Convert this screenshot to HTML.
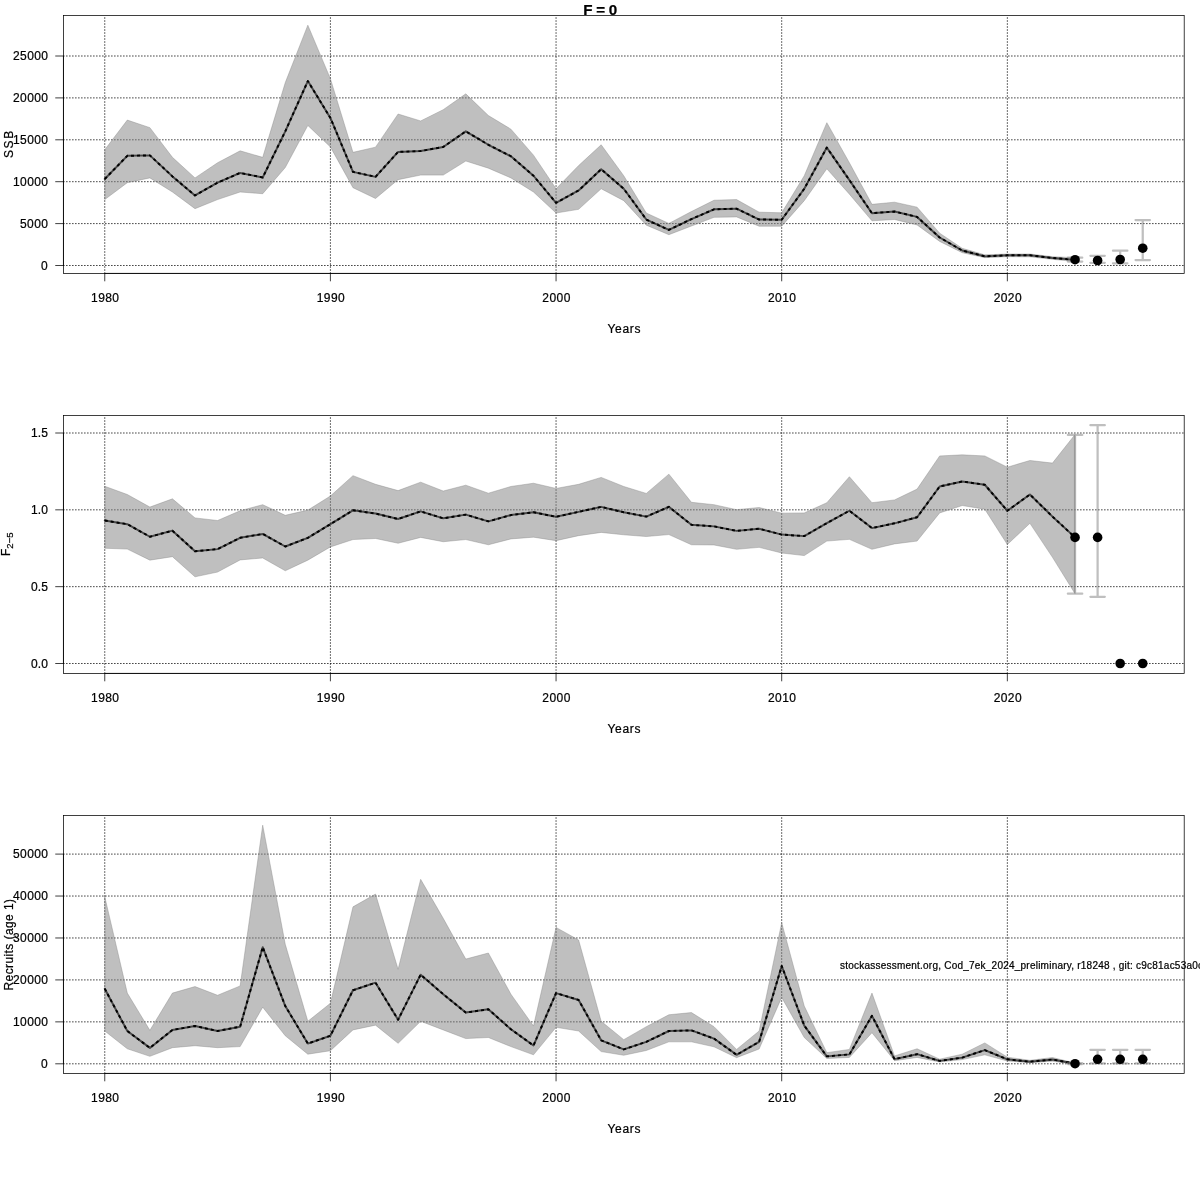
<!DOCTYPE html>
<html lang="en"><head><meta charset="utf-8"><title>F = 0</title>
<style>html,body{margin:0;padding:0;background:#fff}svg{display:block}text{font-family:'Liberation Sans', Arial, Helvetica, sans-serif;fill:#000;stroke:#000;stroke-width:0.22px}</style></head><body>
<svg width="1200" height="1200" viewBox="0 0 1200 1200">
<rect x="0" y="0" width="1200" height="1200" fill="#ffffff"/>
<line x1="55.25" y1="265.5" x2="63.45" y2="265.5" stroke="#000" stroke-width="0.75"/>
<text x="41" y="269.7" font-size="12" textLength="7" lengthAdjust="spacing">0</text>
<line x1="55.25" y1="223.6" x2="63.45" y2="223.6" stroke="#000" stroke-width="0.75"/>
<text x="20" y="227.8" font-size="12" textLength="28" lengthAdjust="spacing">5000</text>
<line x1="55.25" y1="181.7" x2="63.45" y2="181.7" stroke="#000" stroke-width="0.75"/>
<text x="13" y="185.9" font-size="12" textLength="35" lengthAdjust="spacing">10000</text>
<line x1="55.25" y1="139.8" x2="63.45" y2="139.8" stroke="#000" stroke-width="0.75"/>
<text x="13" y="144" font-size="12" textLength="35" lengthAdjust="spacing">15000</text>
<line x1="55.25" y1="97.9" x2="63.45" y2="97.9" stroke="#000" stroke-width="0.75"/>
<text x="13" y="102.1" font-size="12" textLength="35" lengthAdjust="spacing">20000</text>
<line x1="55.25" y1="56" x2="63.45" y2="56" stroke="#000" stroke-width="0.75"/>
<text x="13" y="60.2" font-size="12" textLength="35" lengthAdjust="spacing">25000</text>
<line x1="104.75" y1="273.4" x2="104.75" y2="281.3" stroke="#000" stroke-width="0.75"/>
<text x="91.05" y="301.9" font-size="12" textLength="28" lengthAdjust="spacing">1980</text>
<line x1="330.4" y1="273.4" x2="330.4" y2="281.3" stroke="#000" stroke-width="0.75"/>
<text x="316.7" y="301.9" font-size="12" textLength="28" lengthAdjust="spacing">1990</text>
<line x1="556.05" y1="273.4" x2="556.05" y2="281.3" stroke="#000" stroke-width="0.75"/>
<text x="542.35" y="301.9" font-size="12" textLength="28" lengthAdjust="spacing">2000</text>
<line x1="781.7" y1="273.4" x2="781.7" y2="281.3" stroke="#000" stroke-width="0.75"/>
<text x="768" y="301.9" font-size="12" textLength="28" lengthAdjust="spacing">2010</text>
<line x1="1007.35" y1="273.4" x2="1007.35" y2="281.3" stroke="#000" stroke-width="0.75"/>
<text x="993.65" y="301.9" font-size="12" textLength="28" lengthAdjust="spacing">2020</text>
<text x="607.43" y="332.6" font-size="12" textLength="33" lengthAdjust="spacing">Years</text>
<text transform="translate(12.8 158.1) rotate(-90)" font-size="12" textLength="27.4" lengthAdjust="spacing">SSB</text>
<line x1="104.75" y1="273.4" x2="1007.35" y2="273.4" stroke="#000" stroke-width="0.75"/>
<line x1="63.45" y1="265.5" x2="63.45" y2="56" stroke="#000" stroke-width="0.75"/>
<rect x="63.45" y="15.5" width="1120.75" height="257.9" fill="none" stroke="#000" stroke-width="0.75"/>
<line x1="104.75" y1="273.4" x2="104.75" y2="15.5" stroke="#000" stroke-width="0.75" stroke-dasharray="0.75 2.25" stroke-linecap="round"/>
<line x1="330.4" y1="273.4" x2="330.4" y2="15.5" stroke="#000" stroke-width="0.75" stroke-dasharray="0.75 2.25" stroke-linecap="round"/>
<line x1="556.05" y1="273.4" x2="556.05" y2="15.5" stroke="#000" stroke-width="0.75" stroke-dasharray="0.75 2.25" stroke-linecap="round"/>
<line x1="781.7" y1="273.4" x2="781.7" y2="15.5" stroke="#000" stroke-width="0.75" stroke-dasharray="0.75 2.25" stroke-linecap="round"/>
<line x1="1007.35" y1="273.4" x2="1007.35" y2="15.5" stroke="#000" stroke-width="0.75" stroke-dasharray="0.75 2.25" stroke-linecap="round"/>
<line x1="63.45" y1="265.5" x2="1184.2" y2="265.5" stroke="#000" stroke-width="0.75" stroke-dasharray="0.75 2.25" stroke-linecap="round"/>
<line x1="63.45" y1="223.6" x2="1184.2" y2="223.6" stroke="#000" stroke-width="0.75" stroke-dasharray="0.75 2.25" stroke-linecap="round"/>
<line x1="63.45" y1="181.7" x2="1184.2" y2="181.7" stroke="#000" stroke-width="0.75" stroke-dasharray="0.75 2.25" stroke-linecap="round"/>
<line x1="63.45" y1="139.8" x2="1184.2" y2="139.8" stroke="#000" stroke-width="0.75" stroke-dasharray="0.75 2.25" stroke-linecap="round"/>
<line x1="63.45" y1="97.9" x2="1184.2" y2="97.9" stroke="#000" stroke-width="0.75" stroke-dasharray="0.75 2.25" stroke-linecap="round"/>
<line x1="63.45" y1="56" x2="1184.2" y2="56" stroke="#000" stroke-width="0.75" stroke-dasharray="0.75 2.25" stroke-linecap="round"/>
<polygon points="104.75,149.75 127.31,120.07 149.88,127.65 172.44,157.33 195.01,177.92 217.57,162.75 240.14,150.83 262.71,157.33 285.27,82.58 307.84,25.17 330.4,78.68 352.97,152.35 375.53,147.15 398.1,114 420.66,120.93 443.23,109.67 465.79,93.85 488.36,115.52 510.92,129.17 533.49,155.17 556.05,188.75 578.62,165.57 601.18,144.77 623.75,175.75 646.31,213.02 668.88,223.42 691.44,211.5 714,200.23 736.57,199.58 759.13,212.15 781.7,212.8 804.26,175.75 826.83,122.67 849.4,162.75 871.96,204.35 894.53,202.18 917.09,207.17 939.66,233.17 962.22,248.33 984.79,254.83 1007.35,254 1029.91,254 1052.48,256.67 1075.05,257.67 1075.05,261.5 1052.48,259.33 1029.91,256.83 1007.35,256.67 984.79,257.65 962.22,252.67 939.66,241.4 917.09,224.93 894.53,219.52 871.96,220.82 849.4,194.17 826.83,168.82 804.26,200.67 781.7,226.23 759.13,226.23 736.57,216.92 714,217.35 691.44,226.02 668.88,234.68 646.31,225.15 623.75,200.67 601.18,188.75 578.62,209.33 556.05,213.02 533.49,192 510.92,177.92 488.36,168.17 465.79,161.02 443.23,175.1 420.66,175.1 398.1,179.65 375.53,198.5 352.97,187.67 330.4,146.93 307.84,125.48 285.27,167.52 262.71,193.73 240.14,192 217.57,199.58 195.01,208.68 172.44,192 149.88,177.92 127.31,182.68 104.75,199.58" fill="rgba(128,128,128,0.5)" stroke="rgba(128,128,128,0.5)" stroke-width="0.75" stroke-linejoin="round"/>
<polyline points="104.75,179 127.31,155.82 149.88,155.38 172.44,176.4 195.01,195.47 217.57,182.68 240.14,172.93 262.71,177.48 285.27,131.33 307.84,81.07 330.4,117.9 352.97,171.85 375.53,176.83 398.1,151.92 420.66,151.05 443.23,146.93 465.79,131.33 488.36,144.77 510.92,156.25 533.49,175.75 556.05,202.83 578.62,190.48 601.18,169.25 623.75,188.75 646.31,219.52 668.88,229.92 691.44,219.08 714,209.33 736.57,208.68 759.13,219.52 781.7,219.73 804.26,188.75 826.83,147.58 849.4,180.08 871.96,213.23 894.53,211.5 917.09,216.92 939.66,237.5 962.22,250.5 984.79,256.35 1007.35,255.33 1029.91,255.33 1052.48,258 1075.05,259.67" fill="none" stroke="#000" stroke-opacity="0.62" stroke-width="1.95" stroke-linejoin="round" stroke-linecap="round"/>
<polyline points="104.75,179 127.31,155.82 149.88,155.38 172.44,176.4 195.01,195.47 217.57,182.68 240.14,172.93 262.71,177.48 285.27,131.33 307.84,81.07 330.4,117.9 352.97,171.85 375.53,176.83 398.1,151.92 420.66,151.05 443.23,146.93 465.79,131.33 488.36,144.77 510.92,156.25 533.49,175.75 556.05,202.83 578.62,190.48 601.18,169.25 623.75,188.75 646.31,219.52 668.88,229.92 691.44,219.08 714,209.33 736.57,208.68 759.13,219.52 781.7,219.73 804.26,188.75 826.83,147.58 849.4,180.08 871.96,213.23 894.53,211.5 917.09,216.92 939.66,237.5 962.22,250.5 984.79,256.35 1007.35,255.33 1029.91,255.33 1052.48,258 1075.05,259.67" fill="none" stroke="#000" stroke-width="1.95" stroke-dasharray="3 3" stroke-linejoin="round" stroke-linecap="butt"/>
<path d="M1075.05 257.7V261.5M1067.85 257.7H1082.25M1067.85 261.5H1082.25" fill="none" stroke="rgba(128,128,128,0.5)" stroke-width="2.25" stroke-linecap="round"/>
<path d="M1097.61 255.8V262.8M1090.41 255.8H1104.81M1090.41 262.8H1104.81" fill="none" stroke="rgba(128,128,128,0.5)" stroke-width="2.25" stroke-linecap="round"/>
<path d="M1120.18 250.7V263.3M1112.98 250.7H1127.38M1112.98 263.3H1127.38" fill="none" stroke="rgba(128,128,128,0.5)" stroke-width="2.25" stroke-linecap="round"/>
<path d="M1142.74 220V260M1135.54 220H1149.94M1135.54 260H1149.94" fill="none" stroke="rgba(128,128,128,0.5)" stroke-width="2.25" stroke-linecap="round"/>
<circle cx="1075.05" cy="259.7" r="4.8" fill="#000"/>
<circle cx="1097.61" cy="260.5" r="4.8" fill="#000"/>
<circle cx="1120.18" cy="259.5" r="4.8" fill="#000"/>
<circle cx="1142.74" cy="248.2" r="4.8" fill="#000"/>
<line x1="55.25" y1="663.5" x2="63.45" y2="663.5" stroke="#000" stroke-width="0.75"/>
<text x="31" y="667.7" font-size="12" textLength="17" lengthAdjust="spacing">0.0</text>
<line x1="55.25" y1="586.67" x2="63.45" y2="586.67" stroke="#000" stroke-width="0.75"/>
<text x="31" y="590.87" font-size="12" textLength="17" lengthAdjust="spacing">0.5</text>
<line x1="55.25" y1="509.84" x2="63.45" y2="509.84" stroke="#000" stroke-width="0.75"/>
<text x="31" y="514.04" font-size="12" textLength="17" lengthAdjust="spacing">1.0</text>
<line x1="55.25" y1="433.01" x2="63.45" y2="433.01" stroke="#000" stroke-width="0.75"/>
<text x="31" y="437.21" font-size="12" textLength="17" lengthAdjust="spacing">1.5</text>
<line x1="104.75" y1="673.4" x2="104.75" y2="681.3" stroke="#000" stroke-width="0.75"/>
<text x="91.05" y="701.9" font-size="12" textLength="28" lengthAdjust="spacing">1980</text>
<line x1="330.4" y1="673.4" x2="330.4" y2="681.3" stroke="#000" stroke-width="0.75"/>
<text x="316.7" y="701.9" font-size="12" textLength="28" lengthAdjust="spacing">1990</text>
<line x1="556.05" y1="673.4" x2="556.05" y2="681.3" stroke="#000" stroke-width="0.75"/>
<text x="542.35" y="701.9" font-size="12" textLength="28" lengthAdjust="spacing">2000</text>
<line x1="781.7" y1="673.4" x2="781.7" y2="681.3" stroke="#000" stroke-width="0.75"/>
<text x="768" y="701.9" font-size="12" textLength="28" lengthAdjust="spacing">2010</text>
<line x1="1007.35" y1="673.4" x2="1007.35" y2="681.3" stroke="#000" stroke-width="0.75"/>
<text x="993.65" y="701.9" font-size="12" textLength="28" lengthAdjust="spacing">2020</text>
<text x="607.43" y="732.6" font-size="12" textLength="33" lengthAdjust="spacing">Years</text>
<text transform="translate(9.5 556) rotate(-90)" font-size="12" text-anchor="start">F<tspan font-size="9.6" dy="3.2">2−5</tspan></text>
<line x1="104.75" y1="673.4" x2="1007.35" y2="673.4" stroke="#000" stroke-width="0.75"/>
<line x1="63.45" y1="663.5" x2="63.45" y2="433.01" stroke="#000" stroke-width="0.75"/>
<rect x="63.45" y="415.5" width="1120.75" height="257.9" fill="none" stroke="#000" stroke-width="0.75"/>
<line x1="104.75" y1="673.4" x2="104.75" y2="415.5" stroke="#000" stroke-width="0.75" stroke-dasharray="0.75 2.25" stroke-linecap="round"/>
<line x1="330.4" y1="673.4" x2="330.4" y2="415.5" stroke="#000" stroke-width="0.75" stroke-dasharray="0.75 2.25" stroke-linecap="round"/>
<line x1="556.05" y1="673.4" x2="556.05" y2="415.5" stroke="#000" stroke-width="0.75" stroke-dasharray="0.75 2.25" stroke-linecap="round"/>
<line x1="781.7" y1="673.4" x2="781.7" y2="415.5" stroke="#000" stroke-width="0.75" stroke-dasharray="0.75 2.25" stroke-linecap="round"/>
<line x1="1007.35" y1="673.4" x2="1007.35" y2="415.5" stroke="#000" stroke-width="0.75" stroke-dasharray="0.75 2.25" stroke-linecap="round"/>
<line x1="63.45" y1="663.5" x2="1184.2" y2="663.5" stroke="#000" stroke-width="0.75" stroke-dasharray="0.75 2.25" stroke-linecap="round"/>
<line x1="63.45" y1="586.67" x2="1184.2" y2="586.67" stroke="#000" stroke-width="0.75" stroke-dasharray="0.75 2.25" stroke-linecap="round"/>
<line x1="63.45" y1="509.84" x2="1184.2" y2="509.84" stroke="#000" stroke-width="0.75" stroke-dasharray="0.75 2.25" stroke-linecap="round"/>
<line x1="63.45" y1="433.01" x2="1184.2" y2="433.01" stroke="#000" stroke-width="0.75" stroke-dasharray="0.75 2.25" stroke-linecap="round"/>
<polygon points="104.75,486.27 127.31,494.5 149.88,507.07 172.44,498.83 195.01,517.9 217.57,520.5 240.14,510.75 262.71,504.68 285.27,515.3 307.84,510.1 330.4,496.02 352.97,475.65 375.53,484.32 398.1,490.6 420.66,482.15 443.23,491.03 465.79,485.18 488.36,493.2 510.92,486.48 533.49,483.23 556.05,488.43 578.62,484.32 601.18,477.38 623.75,486.48 646.31,493.42 668.88,474.13 691.44,502.3 714,504.68 736.57,509.67 759.13,507.5 781.7,513.13 804.26,512.92 826.83,502.73 849.4,476.73 871.96,502.73 894.53,499.92 917.09,489.08 939.66,455.93 962.22,454.85 984.79,455.93 1007.35,467.2 1029.91,460.48 1052.48,463.08 1075.05,434.48 1075.05,593.73 1052.48,557.33 1029.91,523.32 1007.35,544.55 984.79,509.23 962.22,505.55 939.66,512.92 917.09,541.08 894.53,543.9 871.96,549.32 849.4,539.35 826.83,541.08 804.26,555.6 781.7,553 759.13,547.37 736.57,549.32 714,544.98 691.44,544.77 668.88,534.58 646.31,536.53 623.75,534.8 601.18,532.42 578.62,535.67 556.05,540.65 533.49,537.18 510.92,538.92 488.36,544.77 465.79,539.57 443.23,541.73 420.66,537.4 398.1,543.25 375.53,538.48 352.97,539.57 330.4,546.93 307.84,560.15 285.27,570.77 262.71,557.98 240.14,559.93 217.57,572.07 195.01,576.83 172.44,556.68 149.88,560.15 127.31,549.1 104.75,548.23" fill="rgba(128,128,128,0.5)" stroke="rgba(128,128,128,0.5)" stroke-width="0.75" stroke-linejoin="round"/>
<polyline points="104.75,520.5 127.31,524.18 149.88,536.75 172.44,530.68 195.01,551.27 217.57,549.1 240.14,537.83 262.71,533.93 285.27,546.5 307.84,537.83 330.4,524.18 352.97,510.32 375.53,513.57 398.1,518.98 420.66,511.4 443.23,518.33 465.79,514.65 488.36,521.37 510.92,515.08 533.49,512.27 556.05,516.82 578.62,511.83 601.18,506.85 623.75,512.27 646.31,516.6 668.88,506.85 691.44,524.83 714,526.35 736.57,530.9 759.13,528.73 781.7,534.58 804.26,536.1 826.83,523.1 849.4,510.75 871.96,528.08 894.53,523.32 917.09,517.25 939.66,486.48 962.22,481.5 984.79,484.75 1007.35,510.75 1029.91,494.5 1052.48,516.6 1075.05,537.4" fill="none" stroke="#000" stroke-opacity="0.62" stroke-width="1.95" stroke-linejoin="round" stroke-linecap="round"/>
<polyline points="104.75,520.5 127.31,524.18 149.88,536.75 172.44,530.68 195.01,551.27 217.57,549.1 240.14,537.83 262.71,533.93 285.27,546.5 307.84,537.83 330.4,524.18 352.97,510.32 375.53,513.57 398.1,518.98 420.66,511.4 443.23,518.33 465.79,514.65 488.36,521.37 510.92,515.08 533.49,512.27 556.05,516.82 578.62,511.83 601.18,506.85 623.75,512.27 646.31,516.6 668.88,506.85 691.44,524.83 714,526.35 736.57,530.9 759.13,528.73 781.7,534.58 804.26,536.1 826.83,523.1 849.4,510.75 871.96,528.08 894.53,523.32 917.09,517.25 939.66,486.48 962.22,481.5 984.79,484.75 1007.35,510.75 1029.91,494.5 1052.48,516.6 1075.05,537.4" fill="none" stroke="#000" stroke-width="1.95" stroke-dasharray="3 3" stroke-linejoin="round" stroke-linecap="butt"/>
<path d="M1075.05 434.92V593.73M1067.85 434.92H1082.25M1067.85 593.73H1082.25" fill="none" stroke="rgba(128,128,128,0.5)" stroke-width="2.25" stroke-linecap="round"/>
<path d="M1097.61 425.17V596.77M1090.41 425.17H1104.81M1090.41 596.77H1104.81" fill="none" stroke="rgba(128,128,128,0.5)" stroke-width="2.25" stroke-linecap="round"/>
<circle cx="1075.05" cy="537.4" r="4.8" fill="#000"/>
<circle cx="1097.61" cy="537.4" r="4.8" fill="#000"/>
<circle cx="1120.18" cy="663.5" r="4.8" fill="#000"/>
<circle cx="1142.74" cy="663.5" r="4.8" fill="#000"/>
<line x1="55.25" y1="1063.8" x2="63.45" y2="1063.8" stroke="#000" stroke-width="0.75"/>
<text x="41" y="1068" font-size="12" textLength="7" lengthAdjust="spacing">0</text>
<line x1="55.25" y1="1021.86" x2="63.45" y2="1021.86" stroke="#000" stroke-width="0.75"/>
<text x="13" y="1026.06" font-size="12" textLength="35" lengthAdjust="spacing">10000</text>
<line x1="55.25" y1="979.92" x2="63.45" y2="979.92" stroke="#000" stroke-width="0.75"/>
<text x="13" y="984.12" font-size="12" textLength="35" lengthAdjust="spacing">20000</text>
<line x1="55.25" y1="937.98" x2="63.45" y2="937.98" stroke="#000" stroke-width="0.75"/>
<text x="13" y="942.18" font-size="12" textLength="35" lengthAdjust="spacing">30000</text>
<line x1="55.25" y1="896.04" x2="63.45" y2="896.04" stroke="#000" stroke-width="0.75"/>
<text x="13" y="900.24" font-size="12" textLength="35" lengthAdjust="spacing">40000</text>
<line x1="55.25" y1="854.1" x2="63.45" y2="854.1" stroke="#000" stroke-width="0.75"/>
<text x="13" y="858.3" font-size="12" textLength="35" lengthAdjust="spacing">50000</text>
<line x1="104.75" y1="1073.4" x2="104.75" y2="1081.3" stroke="#000" stroke-width="0.75"/>
<text x="91.05" y="1101.9" font-size="12" textLength="28" lengthAdjust="spacing">1980</text>
<line x1="330.4" y1="1073.4" x2="330.4" y2="1081.3" stroke="#000" stroke-width="0.75"/>
<text x="316.7" y="1101.9" font-size="12" textLength="28" lengthAdjust="spacing">1990</text>
<line x1="556.05" y1="1073.4" x2="556.05" y2="1081.3" stroke="#000" stroke-width="0.75"/>
<text x="542.35" y="1101.9" font-size="12" textLength="28" lengthAdjust="spacing">2000</text>
<line x1="781.7" y1="1073.4" x2="781.7" y2="1081.3" stroke="#000" stroke-width="0.75"/>
<text x="768" y="1101.9" font-size="12" textLength="28" lengthAdjust="spacing">2010</text>
<line x1="1007.35" y1="1073.4" x2="1007.35" y2="1081.3" stroke="#000" stroke-width="0.75"/>
<text x="993.65" y="1101.9" font-size="12" textLength="28" lengthAdjust="spacing">2020</text>
<text x="607.43" y="1132.6" font-size="12" textLength="33" lengthAdjust="spacing">Years</text>
<text transform="translate(12.8 990.5) rotate(-90)" font-size="12" textLength="91.5" lengthAdjust="spacing">Recruits (age 1)</text>
<line x1="104.75" y1="1073.4" x2="1007.35" y2="1073.4" stroke="#000" stroke-width="0.75"/>
<line x1="63.45" y1="1063.8" x2="63.45" y2="854.1" stroke="#000" stroke-width="0.75"/>
<rect x="63.45" y="815.5" width="1120.75" height="257.9" fill="none" stroke="#000" stroke-width="0.75"/>
<line x1="104.75" y1="1073.4" x2="104.75" y2="815.5" stroke="#000" stroke-width="0.75" stroke-dasharray="0.75 2.25" stroke-linecap="round"/>
<line x1="330.4" y1="1073.4" x2="330.4" y2="815.5" stroke="#000" stroke-width="0.75" stroke-dasharray="0.75 2.25" stroke-linecap="round"/>
<line x1="556.05" y1="1073.4" x2="556.05" y2="815.5" stroke="#000" stroke-width="0.75" stroke-dasharray="0.75 2.25" stroke-linecap="round"/>
<line x1="781.7" y1="1073.4" x2="781.7" y2="815.5" stroke="#000" stroke-width="0.75" stroke-dasharray="0.75 2.25" stroke-linecap="round"/>
<line x1="1007.35" y1="1073.4" x2="1007.35" y2="815.5" stroke="#000" stroke-width="0.75" stroke-dasharray="0.75 2.25" stroke-linecap="round"/>
<line x1="63.45" y1="1063.8" x2="1184.2" y2="1063.8" stroke="#000" stroke-width="0.75" stroke-dasharray="0.75 2.25" stroke-linecap="round"/>
<line x1="63.45" y1="1021.86" x2="1184.2" y2="1021.86" stroke="#000" stroke-width="0.75" stroke-dasharray="0.75 2.25" stroke-linecap="round"/>
<line x1="63.45" y1="979.92" x2="1184.2" y2="979.92" stroke="#000" stroke-width="0.75" stroke-dasharray="0.75 2.25" stroke-linecap="round"/>
<line x1="63.45" y1="937.98" x2="1184.2" y2="937.98" stroke="#000" stroke-width="0.75" stroke-dasharray="0.75 2.25" stroke-linecap="round"/>
<line x1="63.45" y1="896.04" x2="1184.2" y2="896.04" stroke="#000" stroke-width="0.75" stroke-dasharray="0.75 2.25" stroke-linecap="round"/>
<line x1="63.45" y1="854.1" x2="1184.2" y2="854.1" stroke="#000" stroke-width="0.75" stroke-dasharray="0.75 2.25" stroke-linecap="round"/>
<polygon points="104.75,896.67 127.31,993.08 149.88,1030.35 172.44,993.08 195.01,986.58 217.57,995.25 240.14,985.93 262.71,825.17 285.27,944.33 307.84,1021.25 330.4,1003.27 352.97,906.85 375.53,894.07 398.1,969.25 420.66,879.33 443.23,918.33 465.79,959.07 488.36,953 510.92,994.17 533.49,1026.02 556.05,927.43 578.62,940 601.18,1021.25 623.75,1039.67 646.31,1026.67 668.88,1014.75 691.44,1012.58 714,1026.67 736.57,1049.42 759.13,1031 781.7,922.67 804.26,1006.08 826.83,1052.67 849.4,1049.42 871.96,993.08 894.53,1055.92 917.09,1048.77 939.66,1059.17 962.22,1054.18 984.79,1042.92 1007.35,1057.17 1029.91,1060.33 1052.48,1057.5 1075.05,1063 1075.05,1064.33 1052.48,1061.17 1029.91,1062.67 1007.35,1061 984.79,1054.83 962.22,1059.6 939.66,1061.98 917.09,1057.43 894.53,1060.68 871.96,1032.73 849.4,1057.43 826.83,1058.52 804.26,1037.5 781.7,997.42 759.13,1048.98 736.57,1057.65 714,1046.82 691.44,1041.83 668.88,1041.83 646.31,1050.5 623.75,1055.27 601.18,1051.58 578.62,1031 556.05,1027.32 533.49,1054.83 510.92,1046.6 488.36,1037.5 465.79,1038.58 443.23,1029.92 420.66,1021.25 398.1,1043.35 375.53,1025.15 352.97,1029.92 330.4,1050.72 307.84,1054.18 285.27,1035.77 262.71,1007.17 240.14,1046.6 217.57,1047.68 195.01,1045.73 172.44,1047.68 149.88,1056.35 127.31,1048.77 104.75,1031" fill="rgba(128,128,128,0.5)" stroke="rgba(128,128,128,0.5)" stroke-width="0.75" stroke-linejoin="round"/>
<polyline points="104.75,988.75 127.31,1031 149.88,1047.9 172.44,1029.92 195.01,1026.02 217.57,1031 240.14,1026.67 262.71,947.15 285.27,1006.08 307.84,1043.57 330.4,1035.77 352.97,990.27 375.53,982.68 398.1,1019.73 420.66,974.67 443.23,994.17 465.79,1012.58 488.36,1009.33 510.92,1029.27 533.49,1045.52 556.05,993.08 578.62,1000.02 601.18,1040.32 623.75,1049.42 646.31,1041.83 668.88,1031 691.44,1030.35 714,1038.58 736.57,1054.83 759.13,1041.83 781.7,966 804.26,1025.58 826.83,1056.35 849.4,1054.4 871.96,1015.83 894.53,1059.17 917.09,1054.18 939.66,1060.9 962.22,1057.65 984.79,1050.07 1007.35,1059.33 1029.91,1061.67 1052.48,1059.5 1075.05,1063.67" fill="none" stroke="#000" stroke-opacity="0.62" stroke-width="1.95" stroke-linejoin="round" stroke-linecap="round"/>
<polyline points="104.75,988.75 127.31,1031 149.88,1047.9 172.44,1029.92 195.01,1026.02 217.57,1031 240.14,1026.67 262.71,947.15 285.27,1006.08 307.84,1043.57 330.4,1035.77 352.97,990.27 375.53,982.68 398.1,1019.73 420.66,974.67 443.23,994.17 465.79,1012.58 488.36,1009.33 510.92,1029.27 533.49,1045.52 556.05,993.08 578.62,1000.02 601.18,1040.32 623.75,1049.42 646.31,1041.83 668.88,1031 691.44,1030.35 714,1038.58 736.57,1054.83 759.13,1041.83 781.7,966 804.26,1025.58 826.83,1056.35 849.4,1054.4 871.96,1015.83 894.53,1059.17 917.09,1054.18 939.66,1060.9 962.22,1057.65 984.79,1050.07 1007.35,1059.33 1029.91,1061.67 1052.48,1059.5 1075.05,1063.67" fill="none" stroke="#000" stroke-width="1.95" stroke-dasharray="3 3" stroke-linejoin="round" stroke-linecap="butt"/>
<path d="M1075.05 1063V1064M1067.85 1063H1082.25M1067.85 1064H1082.25" fill="none" stroke="rgba(128,128,128,0.5)" stroke-width="2.25" stroke-linecap="round"/>
<path d="M1097.61 1049.8V1063.3M1090.41 1049.8H1104.81M1090.41 1063.3H1104.81" fill="none" stroke="rgba(128,128,128,0.5)" stroke-width="2.25" stroke-linecap="round"/>
<path d="M1120.18 1049.8V1063.3M1112.98 1049.8H1127.38M1112.98 1063.3H1127.38" fill="none" stroke="rgba(128,128,128,0.5)" stroke-width="2.25" stroke-linecap="round"/>
<path d="M1142.74 1049.8V1063.3M1135.54 1049.8H1149.94M1135.54 1063.3H1149.94" fill="none" stroke="rgba(128,128,128,0.5)" stroke-width="2.25" stroke-linecap="round"/>
<circle cx="1075.05" cy="1063.7" r="4.8" fill="#000"/>
<circle cx="1097.61" cy="1059.3" r="4.8" fill="#000"/>
<circle cx="1120.18" cy="1059.3" r="4.8" fill="#000"/>
<circle cx="1142.74" cy="1059.3" r="4.8" fill="#000"/>
<text x="583.2" y="15.4" font-size="15.2" font-weight="bold" textLength="34" lengthAdjust="spacing">F = 0</text>
<text x="840" y="969" font-size="10" textLength="363" lengthAdjust="spacing">stockassessment.org, Cod_7ek_2024_preliminary, r18248 , git: c9c81ac53a0c</text>
</svg></body></html>
